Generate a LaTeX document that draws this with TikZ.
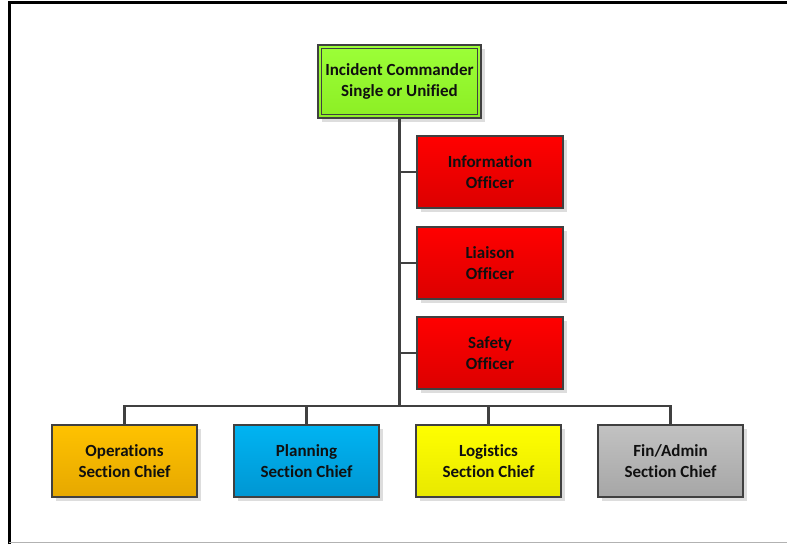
\documentclass[tikz,border=0pt]{standalone}
\usepackage{fontspec}
\setmainfont{Carlito}
\newfontfamily\boxfont{Carlito}[UprightFont={* Bold},Ligatures={NoCommon}]
\begin{document}
\definecolor{edge}{HTML}{404040}
\definecolor{txt}{HTML}{101010}
\definecolor{redtop}{HTML}{FF0000}
\definecolor{redbot}{HTML}{DC0000}
\definecolor{grntop}{HTML}{9CFF38}
\definecolor{grnbot}{HTML}{8CEE24}
\definecolor{orgtop}{HTML}{FFC200}
\definecolor{orgbot}{HTML}{E6A800}
\definecolor{blutop}{HTML}{00B4F2}
\definecolor{blubot}{HTML}{0096D2}
\definecolor{yeltop}{HTML}{FFFF00}
\definecolor{yelbot}{HTML}{E8E800}
\definecolor{gratop}{HTML}{C2C2C2}
\definecolor{grabot}{HTML}{A6A6A6}
\definecolor{shade}{HTML}{DDDDDD}
\begin{tikzpicture}[x=1pt,y=-1pt,
  box/.style={draw=edge, line width=1.2pt, text=txt, align=center,
    minimum width=146pt, minimum height=72pt, inner sep=0pt,
    font=\boxfont\fontsize{17}{21}\selectfont,
    preaction={fill=shade, transform canvas={xshift=4pt,yshift=-4pt}}},
  redbox/.style={box, top color=redtop, bottom color=redbot},
  link/.style={draw=edge, line width=2.4pt},
  branch/.style={draw=edge, line width=1.8pt}]
  \useasboundingbox (0,0) rectangle (787,544);
  % page frame
  \draw[black, line width=3pt] (9,544) -- (9,2.5) -- (787,2.5);
  \draw[gray!60, line width=1.2pt] (9,542.5) -- (787,542.5);

  % command box
  \node[box, top color=grntop, bottom color=grnbot, minimum width=163pt, minimum height=73pt]
    (ic) at (399.5,81.5) {Incident Commander\\Single or Unified};
  \draw[edge, line width=1pt] ([shift={(4,4)}]ic.north west) rectangle ([shift={(-4,-4)}]ic.south east);

  % command staff
  \node[redbox] (info) at (490,172) {Information\\Officer};
  \node[redbox] (liaison) at (490,263) {Liaison\\Officer};
  \node[redbox] (safety) at (490,353) {Safety\\Officer};

  % general staff
  \node[box, top color=orgtop, bottom color=orgbot, minimum width=145pt] (ops) at (124.5,461) {Operations\\Section Chief};
  \node[box, top color=blutop, bottom color=blubot, minimum width=145pt] (plan) at (306.5,461) {Planning\\Section Chief};
  \node[box, top color=yeltop, bottom color=yelbot, minimum width=145pt] (logi) at (488.5,461) {Logistics\\Section Chief};
  \node[box, top color=gratop, bottom color=grabot, minimum width=145pt] (fin) at (670.5,461) {Fin/Admin\\Section Chief};

  % connectors
  \coordinate (bus) at (399.5,406);
  \draw[link] (ic.south) -- (bus);
  \draw[branch] (bus |- info.west) -- (info.west);
  \draw[branch] (bus |- liaison.west) -- (liaison.west);
  \draw[branch] (bus |- safety.west) -- (safety.west);
  \draw[link] (ops.north) |- (bus) -| (fin.north);
  \draw[link] (plan.north) -- (plan.north |- bus);
  \draw[link] (logi.north) -- (logi.north |- bus);
\end{tikzpicture}
\end{document}
